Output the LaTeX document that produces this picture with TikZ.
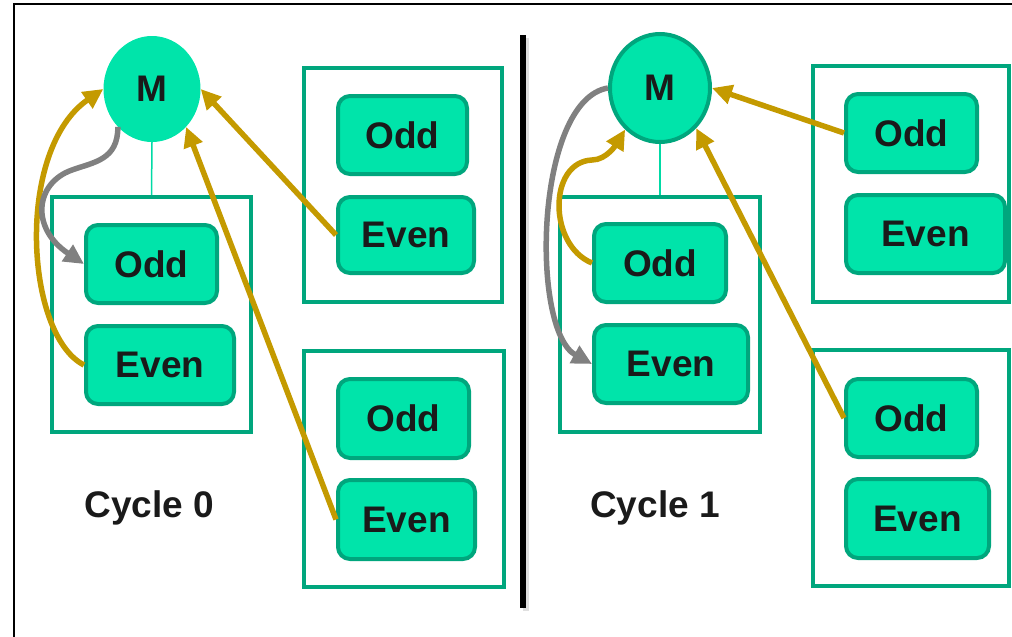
\documentclass[tikz,border=0pt]{standalone}
\usepackage{fontspec}
\setmainfont{Liberation Sans}
\usetikzlibrary{arrows.meta,shapes.geometric}
\definecolor{mint}{RGB}{0,228,170}
\definecolor{mintdark}{RGB}{0,166,125}
\definecolor{linkmint}{RGB}{0,218,165}
\definecolor{gold}{RGB}{196,154,0}
\definecolor{flowgray}{RGB}{128,128,128}
\definecolor{ink}{RGB}{26,26,26}
\begin{document}
\begin{tikzpicture}[x=1pt,y=-1pt,
  lbl/.style={font=\fontsize{37}{41}\selectfont\bfseries, text=ink},
  unit/.style={lbl, draw=mintdark, fill=mint, line width=4pt, rounded corners=12pt, inner sep=0pt},
  group/.style={draw=mintdark, line width=4pt, inner sep=0pt},
  master/.style={lbl, ellipse, fill=mint, inner sep=0pt},
  link/.style={draw=linkmint, line width=1.5pt},
  goldarrow/.style={draw=gold, line width=5.5pt, -{Triangle[length=20pt,width=19pt]}},
  grayarrow/.style={draw=flowgray, line width=5.5pt, -{Triangle[length=20pt,width=19pt]}},
]
\useasboundingbox (0,0) rectangle (1012,637);
\clip (0,0) rectangle (1012,637);

% outer frame
\draw[line width=2pt] (14,4) rectangle (1040,670);

% divider between the two cycles, with a soft shadow
\coordinate (dtop) at (523,35);
\coordinate (dbot) at (523,608);
\draw[line width=6pt, black, opacity=0.12] ([shift={(3,3)}]dtop) -- ([shift={(3,3)}]dbot);
\draw[line width=6pt, black] (dtop) -- (dbot);

% ---------------- Cycle 0 ----------------
\node[group, minimum width=199, minimum height=235] (gA) at (151.5,314.5) {};
\node[group, minimum width=198, minimum height=234] (gB) at (403,185) {};
\node[group, minimum width=200, minimum height=236] (gC) at (404,469) {};

\node[unit, minimum width=131, minimum height=78] (oA) at (151.5,264) {Odd};
\node[unit, minimum width=148, minimum height=78] (eA) at (160,365) {Even};
\node[unit, minimum width=129, minimum height=78] (oB) at (402.5,135) {Odd};
\node[unit, minimum width=136, minimum height=76] (eB) at (406,235) {Even};
\node[unit, minimum width=131, minimum height=79] (oC) at (403.5,418.5) {Odd};
\node[unit, minimum width=137, minimum height=79] (eC) at (406.5,519.5) {Even};

\node[master, minimum width=97, minimum height=106] (mL) at (152,89) {M};
\draw[link] (mL.south) -- (gA.north);

\node[lbl, anchor=base] (c0) at (149.5,517) {Cycle 0};

% ---------------- Cycle 1 ----------------
\node[group, minimum width=200, minimum height=235] (gD) at (660,314.5) {};
\node[group, minimum width=196, minimum height=236] (gE) at (911,184) {};
\node[group, minimum width=196, minimum height=236] (gF) at (911,468) {};

\node[unit, minimum width=132, minimum height=78] (oD) at (660,263) {Odd};
\node[unit, minimum width=154, minimum height=78] (eD) at (671,364) {Even};
\node[unit, minimum width=131, minimum height=78] (oE) at (911.5,133) {Odd};
\node[unit, minimum width=159, minimum height=78] (eE) at (925.5,234) {Even};
\node[unit, minimum width=131, minimum height=78] (oF) at (911.5,418) {Odd};
\node[unit, minimum width=143, minimum height=79] (eF) at (917.5,518.5) {Even};

\node[master, draw=mintdark, line width=4pt, minimum width=100, minimum height=108] (mR) at (660,88) {M};
\draw[link] (mR.south) -- (gD.north);

\node[lbl, anchor=base] (c1) at (655,517) {Cycle 1};

% ---------------- message flows ----------------
% cycle 0
\draw[goldarrow] (eA.west) .. controls (25,335) and (15,150) .. (mL.west);
\draw[grayarrow] (mL.228) .. controls (118,160) and (94,162) .. (72,170)
                 .. controls (35,183) and (30,228) .. (oA.west);
\draw[goldarrow] (eB.west) -- (mL.east);
\draw[goldarrow] (eC.west) -- (mL.-48);

% cycle 1
\draw[grayarrow] (mR.west) .. controls (535,100) and (530,330) .. (eD.west);
\draw[goldarrow] (oD.west) .. controls (548,245) and (548,162) .. (592,160)
                 .. controls (607,160) and (617,143) .. (mR.230);
\draw[goldarrow] (oE.west) -- (mR.east);
\draw[goldarrow] (oF.west) -- (mR.-48);
\end{tikzpicture}
\end{document}
